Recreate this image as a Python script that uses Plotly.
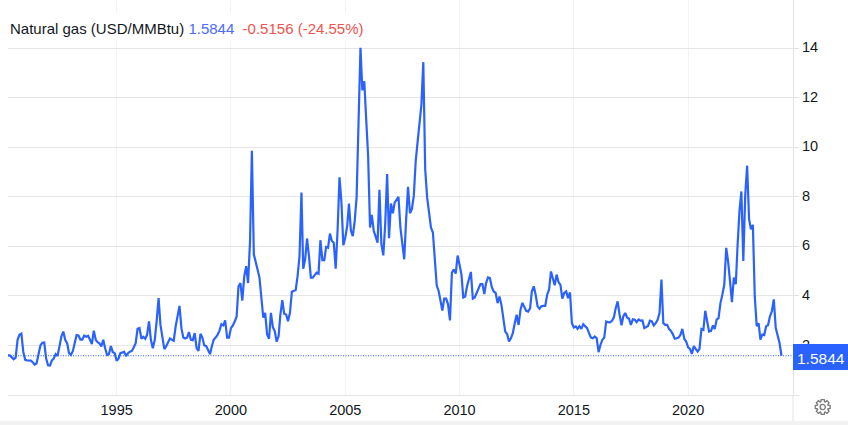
import math
import pandas as pd
import plotly.graph_objects as go

START_MONTH = "1990-04-01"
prices = [
    1.60, 1.60, 1.52, 1.44, 1.51, 2.23, 2.43, 2.48, 1.75,
    1.42, 1.40, 1.39, 1.39, 1.32, 1.23, 1.27, 1.62, 2.00, 2.11, 2.12, 1.48,
    1.20, 1.19, 1.39, 1.47, 1.65, 1.58, 1.96, 2.36, 2.56, 2.23, 2.09, 1.69,
    1.62, 1.78, 2.09, 2.42, 2.40, 2.24, 2.24, 2.40, 2.35, 2.39, 2.23, 2.06,
    2.60, 2.23, 2.13, 2.09, 1.96, 2.23, 1.89, 1.62, 1.66, 1.98, 1.73, 1.69,
    1.38, 1.48, 1.69, 1.73, 1.74, 1.57, 1.69, 1.75, 1.78, 1.92, 2.09, 2.67,
    2.70, 2.27, 2.35, 2.27, 2.43, 2.97, 2.23, 1.89, 2.23, 2.97, 3.91, 2.83,
    2.29, 1.85, 1.96, 2.13, 2.28, 2.23, 2.19, 2.77, 3.24, 3.60, 2.70, 2.32,
    2.28, 2.32, 2.54, 2.23, 2.21, 2.50, 1.89, 1.78, 2.47, 2.33, 2.00, 1.98,
    1.82, 1.65, 1.96, 2.23, 2.32, 2.43, 2.59, 2.86, 2.81, 3.01, 2.32, 2.32,
    2.70, 2.81, 2.97, 3.16, 4.39, 4.52, 3.81, 4.79, 5.20, 4.52, 6.20, 9.86,
    5.68, 5.28, 5.07, 4.74, 3.86, 3.12, 3.32, 2.44, 2.27, 3.32, 2.74, 2.58,
    2.15, 2.38, 3.25, 3.83, 3.28, 3.25, 2.98, 3.32, 4.17, 4.20, 4.24, 4.80,
    5.61, 8.18, 5.10, 5.48, 6.32, 5.61, 4.74, 4.74, 4.87, 4.94, 4.90, 6.25,
    5.45, 5.45, 5.98, 5.95, 6.52, 6.22, 6.15, 5.10, 6.70, 8.79, 7.77, 6.05,
    6.36, 6.83, 7.73, 6.63, 6.42, 7.03, 7.98, 11.55, 14.02, 12.30, 12.67, 11.15,
    9.66, 6.76, 7.27, 6.63, 6.42, 6.15, 8.29, 6.09, 5.64, 6.90, 8.92, 6.33,
    7.73, 7.34, 7.77, 7.91, 8.00, 6.76, 6.15, 5.48, 7.10, 8.41, 7.34, 7.50,
    8.04, 9.46, 10.20, 11.00, 11.70, 13.44, 9.12, 7.98, 7.37, 6.76, 6.56, 5.48,
    4.43, 4.20, 3.79, 3.41, 3.89, 3.89, 3.66, 3.01, 4.94, 5.07, 4.90, 5.63,
    5.26, 4.86, 3.94, 3.98, 4.39, 4.66, 4.97, 3.89, 3.94, 4.12, 4.32, 4.48,
    4.48, 4.08, 4.52, 4.75, 4.72, 4.35, 4.18, 4.12, 3.71, 3.98, 3.64, 3.10,
    2.56, 2.45, 2.16, 2.29, 2.50, 2.90, 3.24, 2.83, 3.44, 3.72, 3.58, 3.40,
    3.37, 3.50, 4.18, 4.39, 4.05, 3.58, 3.48, 3.58, 3.60, 3.60, 4.05, 4.25,
    4.99, 4.66, 4.43, 4.86, 4.56, 4.45, 3.89, 4.12, 4.18, 3.91, 4.14, 2.90,
    2.73, 2.77, 2.67, 2.78, 2.67, 2.86, 2.77, 2.70, 2.50, 2.32, 2.29, 2.36,
    2.30, 1.73, 2.02, 2.23, 2.32, 2.97, 2.94, 2.93, 3.00, 3.13, 3.51, 3.78,
    3.24, 2.81, 3.17, 3.31, 3.13, 3.08, 2.83, 3.06, 3.04, 2.94, 3.05, 3.00,
    3.01, 2.70, 2.74, 2.79, 3.00, 2.97, 2.81, 2.90, 3.04, 3.31, 4.66, 2.90,
    2.83, 2.83, 2.67, 2.59, 2.46, 2.27, 2.29, 2.32, 2.43, 2.67, 2.27, 2.16,
    1.92, 1.86, 1.66, 1.98, 1.86, 1.75, 1.86, 2.67, 2.63, 3.40, 2.97, 2.56,
    2.59, 2.81, 2.66, 3.04, 3.10, 3.71, 4.05, 4.45, 5.94, 5.40, 4.59, 3.75,
    4.74, 4.47, 6.02, 7.44, 8.22, 5.41, 8.04, 9.26, 7.10, 6.69, 6.87, 3.99,
    2.78, 2.89, 2.24, 2.44, 2.42, 2.78, 2.82, 3.18, 3.39, 3.86, 2.71, 2.38,
    2.10, 1.5844,
]
months = pd.date_range(START_MONTH, periods=len(prices), freq="MS")

last_price = "1.5844"
change_text = "-0.5156 (-24.55%)"
series_name = "Natural gas (USD/MMBtu)"
x_tick_dates = ["1995-01-01", "2000-01-01", "2005-01-01", "2010-01-01", "2015-01-01", "2020-01-01"]
x_tick_labels = ["1995", "2000", "2005", "2010", "2015", "2020"]
y_ticks = [0, 2, 4, 6, 8, 10, 12, 14]
y_tick_labels = ["", "2", "4", "6", "8", "10", "12", "14"]

W, H = 848, 425
L, R, T, B = 8, 55, 0, 30
BLUE = "#2962ff"
FONT = "Liberation Sans, Arial, sans-serif"


def px(x):
    return (x - L) / (W - L - R)


def py(y):
    return 1 - (y - T) / (H - T - B)


def rect(x0, y0, x1, y1, color):
    return dict(type="rect", xref="paper", yref="paper", x0=px(x0), x1=px(x1),
                y0=py(y1), y1=py(y0), fillcolor=color, line_width=0, layer="above")


def gear_path(cx, cy, outer, root, teeth=8):
    pts = []
    step = 2 * math.pi / teeth
    for k in range(teeth):
        a = k * step
        for da, r in ((-0.34, root), (-0.2, outer), (0.2, outer), (0.34, root)):
            pts.append((cx + r * math.cos(a + da), cy + r * math.sin(a + da)))
    return "M" + "L".join(f"{px(x):.5f},{py(y):.5f}" for x, y in pts) + "Z"


gear_cx, gear_cy = 822.7, 407

fig = go.Figure(go.Scatter(x=months, y=prices, mode="lines", hoverinfo="skip",
                           line=dict(color=BLUE, width=2.2)))

fig.update_layout(
    width=W, height=H, margin=dict(l=L, r=R, t=T, b=B),
    paper_bgcolor="white", plot_bgcolor="white", showlegend=False,
    font=dict(family=FONT, size=14, color="#131722"),
    xaxis=dict(range=["1990-04-01", "2024-08-03"], tickmode="array",
               tickvals=x_tick_dates, ticktext=x_tick_labels,
               showgrid=True, gridcolor="#f0f3f7", gridwidth=1,
               showline=True, linecolor="#e3e3e3", linewidth=1,
               ticks="", zeroline=False, ticklabelstandoff=2,
               tickfont=dict(size=14.5, color="#131722")),
    yaxis=dict(range=[0, 15.95], side="right", tickmode="array",
               tickvals=y_ticks, ticktext=y_tick_labels,
               showgrid=True, gridcolor="#e6e6e6", gridwidth=1,
               showline=True, linecolor="#e3e3e3", linewidth=1,
               ticks="outside", ticklen=5, tickcolor="#e3e3e3",
               zeroline=False, ticklabelshift=-1,
               tickfont=dict(size=14.5, color="#131722")),
    shapes=[
        rect(8, 13, 368, 41, "white"),
        dict(type="line", xref="paper", yref="y", x0=0, x1=1, y0=float(last_price), y1=float(last_price),
             line=dict(color=BLUE, width=1, dash="1px,1.5px"), layer="above"),
        dict(type="line", xref="paper", yref="paper", x0=1, x1=1, y0=py(421), y1=0,
             line=dict(color="#e3e3e3", width=1)),
        rect(0, 421, 848, 425, "#f2f2f2"),
        rect(793, 344, 848, 370, BLUE),
        dict(type="path", xref="paper", yref="paper", path=gear_path(gear_cx, gear_cy, 7.6, 5.6),
             line=dict(color="#787878", width=1.3), fillcolor="rgba(0,0,0,0)"),
        dict(type="circle", xref="paper", yref="paper", x0=px(gear_cx - 2.6), x1=px(gear_cx + 2.6),
             y0=py(gear_cy + 2.6), y1=py(gear_cy - 2.6), line=dict(color="#787878", width=1.3)),
    ],
    annotations=[
        dict(xref="paper", yref="paper", x=px(8), y=py(28.5), xanchor="left", yanchor="middle",
             showarrow=False, font=dict(size=15, color="#131722", family=FONT),
             text=(f"{series_name} <span style='color:#4a6bff'>{last_price}</span>"
                   f"  <span style='color:#ef5350'>{change_text}</span>")),
        dict(xref="paper", yref="paper", x=px(820.5), y=py(358), xanchor="center", yanchor="middle",
             showarrow=False, text=last_price, font=dict(size=15.5, color="white", family=FONT)),
    ],
)

fig.write_html("out.html", config={"displayModeBar": False},
               post_script="document.body.style.margin='0';")
